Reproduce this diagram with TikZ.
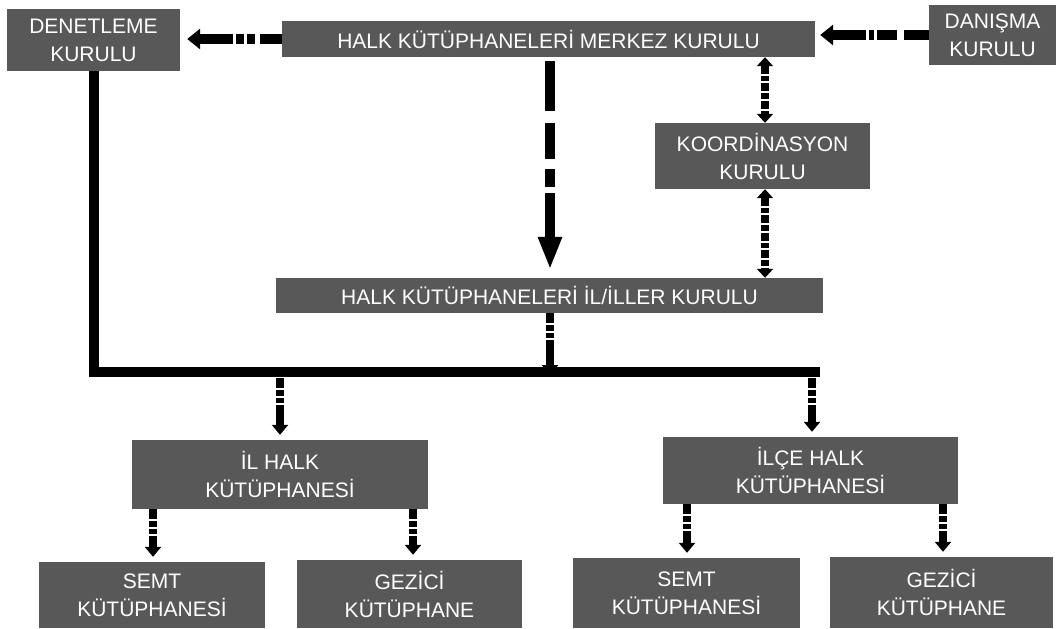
\documentclass[tikz,border=0pt]{standalone}
\usepackage{fontspec}
\setmainfont{Liberation Sans}
\usetikzlibrary{arrows.meta}
\definecolor{boxgray}{RGB}{88,88,88}
\begin{document}
\begin{tikzpicture}[x=1pt,y=-1pt,
  box/.style={fill=boxgray, text=white, font=\fontsize{21}{28}\selectfont, align=center, inner sep=0pt},
  harrL/.style={line width=10pt, dash pattern=on 22pt off 5pt on 8pt off 3pt on 8pt off 3pt on 60pt,
      -{Triangle[width=20pt,length=13pt]}},
  harrR/.style={line width=10pt, dash pattern=on 25pt off 7pt on 20pt off 3pt on 5pt off 3pt on 60pt,
      -{Triangle[width=20pt,length=13pt]}},
  longarr/.style={line width=10pt, dash pattern=on 50pt off 12pt on 36pt off 10pt on 18pt off 6pt on 80pt,
      -{Triangle[width=22pt,length=33pt]}},
  sarr/.style={line width=8pt, dash pattern=on 10pt off 2pt on 6pt off 2pt on 5pt off 2pt on 40pt,
      -{Triangle[width=16pt,length=10pt]}},
  darr/.style={line width=8pt, dash pattern=on 8pt off 2pt on 5pt off 2pt on 8pt off 2pt on 6pt off 2pt,
      {Triangle[width=16pt,length=9pt]}-{Triangle[width=16pt,length=9pt]}},
  bar/.style={line width=10pt, line join=miter}
]
\fill[white] (0,0) rectangle (1058,629);
\useasboundingbox (0,0) rectangle (1058,629);

\node[box, minimum width=173pt, minimum height=62pt] (den) at (93.5,40) {DENETLEME\\KURULU};
\node[box, minimum width=533pt, minimum height=36pt] (merkez) at (548.5,39) {HALK KÜTÜPHANELERİ MERKEZ KURULU};
\node[box, minimum width=127pt, minimum height=60pt] (dan) at (992.5,35) {DANIŞMA\\KURULU};
\node[box, minimum width=215pt, minimum height=66pt] (koord) at (762.5,156) {KOORDİNASYON\\KURULU};
\node[box, minimum width=547pt, minimum height=35pt] (iller) at (549.5,295.5) {HALK KÜTÜPHANELERİ İL/İLLER KURULU};
\node[box, minimum width=296pt, minimum height=69pt] (il) at (280,474.5) {İL HALK\\KÜTÜPHANESİ};
\node[box, minimum width=295pt, minimum height=67pt] (ilce) at (810.5,470.5) {İLÇE HALK\\KÜTÜPHANESİ};
\node[box, minimum width=226pt, minimum height=66pt] (s1) at (152,595) {SEMT\\KÜTÜPHANESİ};
\node[box, minimum width=225pt, minimum height=68pt] (g1) at (409.5,594) {GEZİCİ\\KÜTÜPHANE};
\node[box, minimum width=227pt, minimum height=70pt] (s2) at (686.5,593) {SEMT\\KÜTÜPHANESİ};
\node[box, minimum width=223pt, minimum height=71pt] (g2) at (941.5,592.5) {GEZİCİ\\KÜTÜPHANE};

\coordinate (barR) at (815,372);
\coordinate (barC) at (550,372);

% top horizontal arrows
\draw[harrL, shorten >=7pt] (merkez.west) -- (merkez.west -| den.east);
\draw[harrR, shorten >=5pt] (dan.west) -- (dan.west -| merkez.east);

% main vertical arrow
\draw[longarr, shorten <=4pt, shorten >=8pt] (merkez.south -| barC) -- (iller.north -| barC);

% double arrows
\draw[darr] (merkez.south -| 765,0) -- (koord.north -| 765,0);
\draw[darr] (koord.south -| 765,0) -- (iller.north -| 765,0);

% ILLER -> bar
\draw[sarr, shorten >=2pt] (iller.south -| barC) -- ([yshift=-5pt]barC);

% bar from DENETLEME
\draw[bar] (den.south) |- ([xshift=5pt]barR);

% bar -> il / ilce
\draw[sarr, shorten <=6pt, shorten >=5pt] (il.north |- barR) -- (il.north);
\draw[sarr, shorten <=6pt, shorten >=5pt] (barR -| 812,0) -- (ilce.north -| 812,0);

% il -> semt / gezici
\draw[sarr, shorten >=5pt] (il.south -| 153,0) -- (s1.north -| 153,0);
\draw[sarr, shorten >=5pt] (il.south -| 413,0) -- (g1.north -| 413,0);
\draw[sarr, shorten >=5pt] (ilce.south -| 687,0) -- (s2.north -| 687,0);
\draw[sarr, shorten >=5pt] (ilce.south -| 943,0) -- (g2.north -| 943,0);
\end{tikzpicture}
\end{document}
